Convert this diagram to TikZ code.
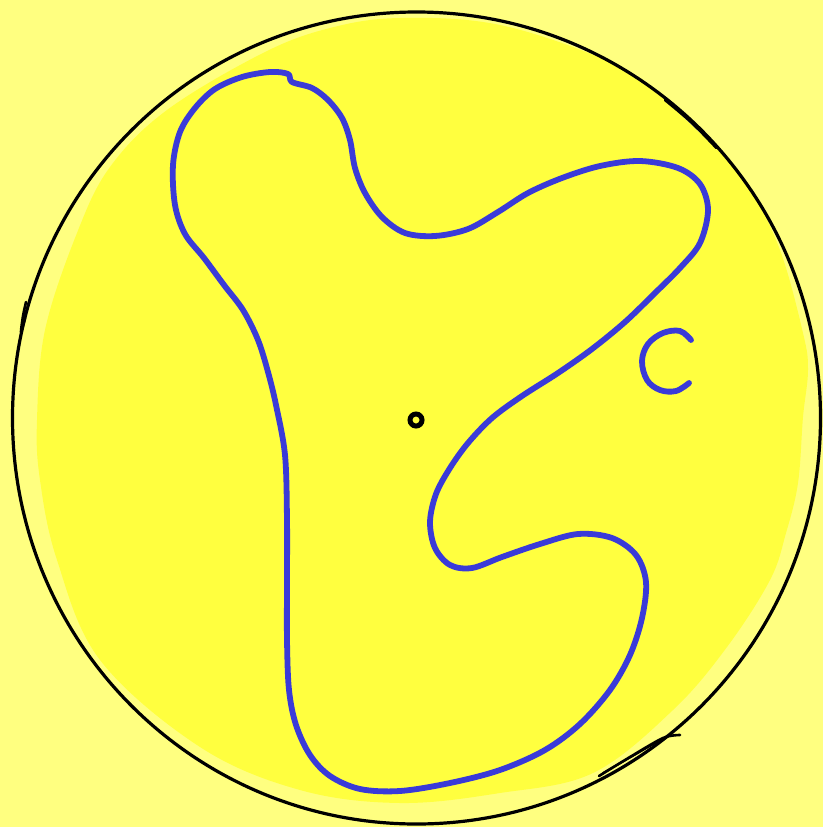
\documentclass[tikz,border=0pt]{standalone}
\definecolor{bgyel}{HTML}{FFFF80}
\definecolor{disk}{HTML}{FFFF3F}
\definecolor{blob}{HTML}{3A3AD8}
\definecolor{shade}{HTML}{8C8C1E}
\tikzset{
  blobline/.style={draw=blob,line width=5.8pt,line cap=round,line join=round},
  pen/.style={draw=black,line width=3.2pt,line cap=round,line join=round},
}
\begin{document}
\begin{tikzpicture}[x=1pt,y=-1pt]
\fill[bgyel] (0,0) rectangle (823,827);
\useasboundingbox (0,0) rectangle (823,827);
% bright yellow disk, kept inside the outline
\begin{scope}
\clip (416.5,418) ellipse [x radius=403, y radius=405];
\fill[disk] plot[smooth cycle,tension=0.6] coordinates {
(400,18) (500,25) (610,62) (670,102) (717,140) (747,182) (780,250) (803,333) (808,370) (803,417) (798,483) (786,533) (770,580) (727,647) (673,710) (593,773) (500,793) (400,803) (300,790) (200,747) (100,660) (57,560) (40,480) (37,420) (45,330) (77,233) (110,167) (167,110) (263,53) (330,28)};
\end{scope}
% shading just inside the top-right edge
\draw[shade,line width=2.6pt,line cap=round] plot[smooth] coordinates {(665,100) (686.5,118) (701.8,132.7) (716.4,148)};
% outline
\draw[pen] (416.5,418) ellipse [x radius=404, y radius=406];
\draw[pen,line width=2.6pt] plot[smooth] coordinates {(26,302) (23,316) (21,332) (25,318)};
\draw[pen,line width=2.6pt] plot[smooth] coordinates {(599,776) (630,757) (663,738) (680,735)};
\draw[pen,line width=2pt] (603,773) -- (657,742);
% blob
\draw[blobline] plot[smooth cycle,tension=0.55] coordinates {
(292,82) (312,88) (328,100) (342,118) (350,140) (355,168) (365,193) (382,217) (405,233) (435,236) (468,229) (498,212) (528,193) (562,178) (600,166) (640,161) (678,168) (700,184) (708,210) (700,243) (680,268) (655,293) (625,322) (592,349) (558,373) (522,396) (492,418) (468,443) (450,468) (436,494) (430,522) (435,548) (450,565) (472,568) (502,557) (540,544) (578,534) (612,538) (636,555) (646,582) (642,618) (630,655) (610,690) (580,724) (545,750) (500,770) (450,783) (400,791) (360,789) (330,776) (310,755) (296,725) (289,690) (287,640) (287,580) (287,520) (285,455) (276,405) (268,372) (258,340) (243,310) (224,285) (204,258) (185,234) (175,205) (173,165) (180,132) (195,108) (215,89) (242,77) (270,72) (288,74)};
% C mark
\draw[blobline] plot[smooth,tension=0.6] coordinates {(691,340) (680,331) (663,333) (648,344) (642,361) (647,380) (660,390) (676,391) (689,383)};
% centre dot
\node[circle,draw=black,line width=5pt,inner sep=0pt,minimum width=11pt,minimum height=12pt] (centre) at (416,420) {};
\end{tikzpicture}
\end{document}
